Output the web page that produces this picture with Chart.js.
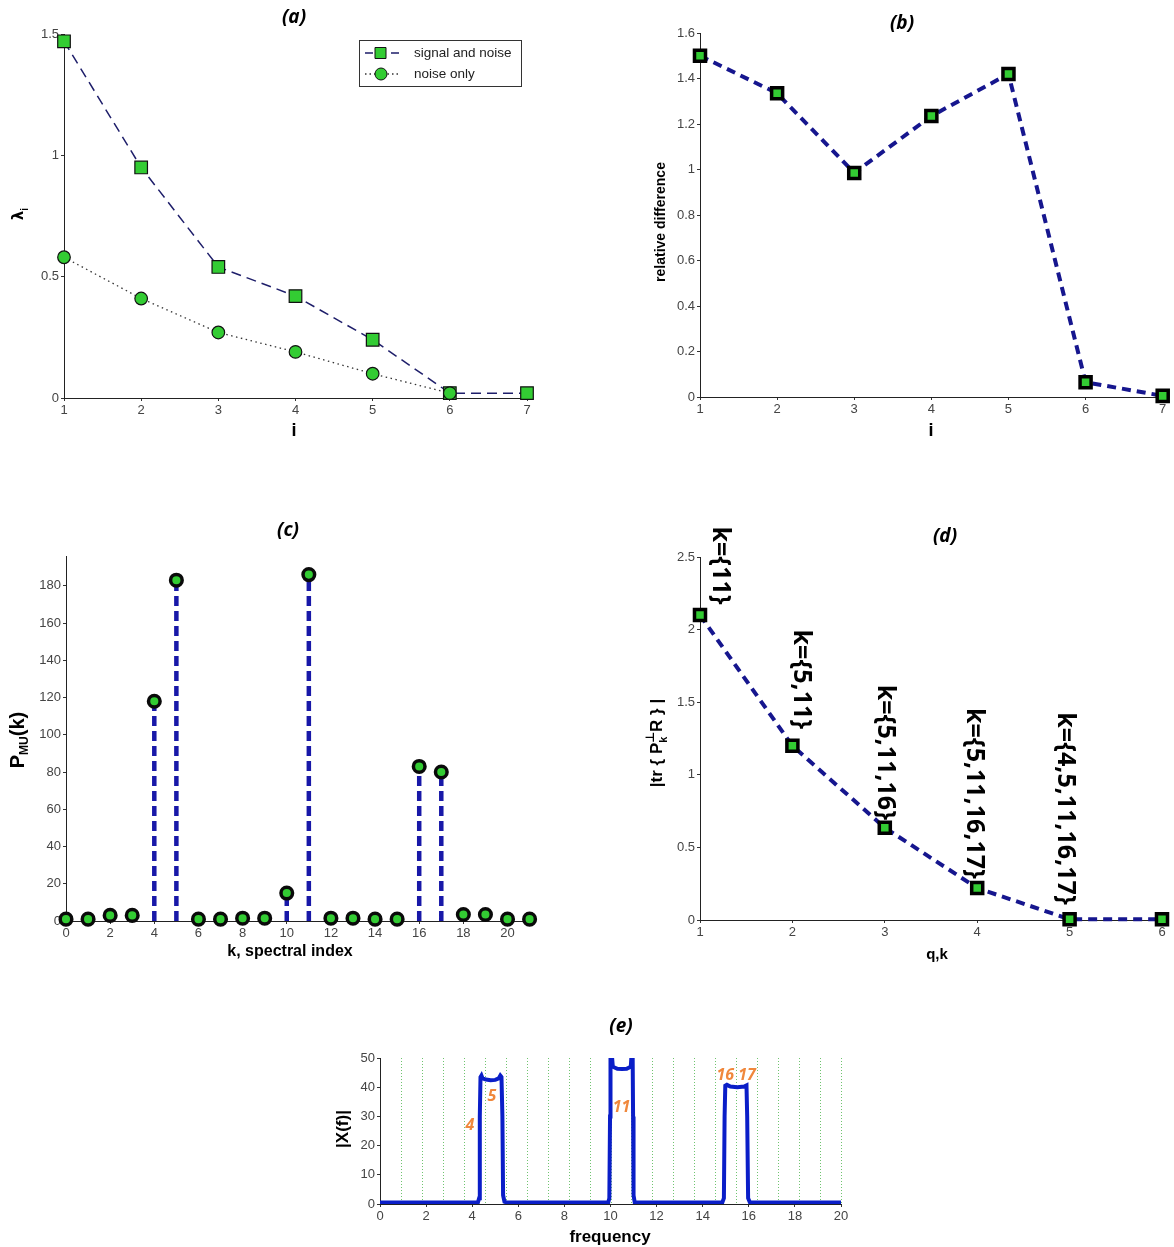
<!DOCTYPE html>
<html>
<head>
<meta charset="utf-8">
<script src="https://cdn.jsdelivr.net/npm/chart.js@4.4.0/dist/chart.umd.min.js"></script>
<style>
body { margin: 0; background: #fff; width: 1174px; height: 1247px; position: relative; overflow: hidden; }
canvas { position: absolute; }
</style>
</head>
<body>
<canvas id="chartA"></canvas>
<canvas id="chartB"></canvas>
<canvas id="chartC"></canvas>
<canvas id="chartD"></canvas>
<canvas id="chartE"></canvas>
<script>
// ---- data ----
const iIdx = [1, 2, 3, 4, 5, 6, 7];
const lambdaSignal = [1.47, 0.95, 0.54, 0.42, 0.24, 0.02, 0.02];
const lambdaNoise = [0.58, 0.41, 0.27, 0.19, 0.10, 0.02];

const relDiff = [1.50, 1.335, 0.985, 1.235, 1.42, 0.065, 0.005];

const kIdx = [0, 1, 2, 3, 4, 5, 6, 7, 8, 9, 10, 11, 12, 13, 14, 15, 16, 17, 18, 19, 20, 21];
const pMusic = [1, 1, 3, 3, 118, 183, 1, 1, 1.5, 1.5, 15, 186, 1.5, 1.5, 1, 1, 83, 80, 3.5, 3.5, 1, 1];

const qIdx = [1, 2, 3, 4, 5, 6];
const traceVals = [2.1, 1.2, 0.635, 0.22, 0.005, 0.005];
const kSets = ["k={11}", "k={5,11}", "k={5,11,16}", "k={5,11,16,17}", "k={4,5,11,16,17}"];

const freq = [0, 4.25, 4.3, 4.33, 4.36, 4.4, 4.45, 4.6, 4.8, 5.0, 5.15, 5.22, 5.27, 5.31, 5.34, 5.4, 5.5,
  9.9, 9.95, 9.98, 10.0, 10.05, 10.1, 10.3, 10.5, 10.7, 10.88, 10.92, 10.96, 10.98, 11.0, 11.05, 11.2,
  14.85, 14.92, 14.95, 14.98, 15.05, 15.2, 15.5, 15.8, 15.9, 15.93, 15.97, 16.05, 20];
const xMag = [0.5, 0.6, 2, 30, 43.5, 44, 43, 42.6, 42.4, 42.5, 43, 44, 43.5, 30, 3, 0.8, 0.5,
  0.5, 2, 30, 52, 52, 47, 46.3, 46.2, 46.3, 47, 52, 52, 30, 3, 0.6, 0.5,
  0.5, 2, 30, 40.5, 40.8, 40.2, 40, 40.2, 40.6, 30, 2, 0.5, 0.5];
const binFreqs = [0.909, 1.818, 2.727, 3.636, 4.545, 5.455, 6.364, 7.273, 8.182, 9.091, 10,
  10.909, 11.818, 12.727, 13.636, 14.545, 15.455, 16.364, 17.273, 18.182, 19.091, 20];
const peakNames = ["4", "5", "11", "16 17"];

// ---- styling ----
const GREEN = '#33cc33';
const NAVY = '#16168e';
const TICK_FONT = { family: 'Liberation Sans', size: 13 };
const TITLE = 'italic bold 19px "Open Sans"';

function put(ctx, s, x, y, f, o) {
  o = o || {};
  ctx.save();
  ctx.translate(x, y);
  if (o.rot) ctx.rotate(o.rot);
  ctx.font = f;
  ctx.fillStyle = o.color || '#000';
  ctx.textAlign = o.align || 'center';
  ctx.textBaseline = o.base || 'middle';
  ctx.fillText(s, 0, 0);
  ctx.restore();
}

// text made of pieces (sub/superscripts), centred on x,y
function rich(ctx, parts, x, y, rot) {
  ctx.save();
  ctx.translate(x, y);
  ctx.rotate(rot || 0);
  let w = 0;
  parts.forEach(p => { ctx.font = p.f; p.w = ctx.measureText(p.t).width; if (!p.stay) w += p.w; });
  let cx = -w / 2;
  ctx.textBaseline = 'middle';
  ctx.textAlign = 'left';
  ctx.fillStyle = '#000';
  parts.forEach(p => { ctx.font = p.f; ctx.fillText(p.t, cx, p.dy || 0); if (!p.stay) cx += p.w; });
  ctx.restore();
}

function axis(r, fit) {
  return {
    type: 'linear', min: r.min, max: r.max,
    afterFit: fit,
    grid: { drawOnChartArea: false, drawTicks: true, tickLength: 3, color: '#333' },
    border: { display: true, color: '#222', width: 1 },
    ticks: { stepSize: r.step, includeBounds: false, autoSkip: false, maxRotation: 0,
      color: '#444', font: TICK_FONT, padding: 2,
      callback: v => String(Math.round(v * 100) / 100) }
  };
}

function makeChart(id, box, m, datasets, xr, yr, deco, under) {
  const cv = document.getElementById(id);
  const W = box.R - box.L + m.l + m.r;
  const H = box.B - box.T + m.t + m.b;
  const left = box.L - m.l, top = box.T - m.t;
  cv.width = W; cv.height = H;
  cv.style.left = left + 'px'; cv.style.top = top + 'px';
  cv.style.width = W + 'px'; cv.style.height = H + 'px';
  const P = (x, y) => [x - left, y - top];
  const plugins = [{ id: 'deco_' + id, afterDraw(chart) { deco(chart, chart.ctx, P); } }];
  if (under) plugins.push({ id: 'under_' + id, beforeDatasetsDraw(chart) { under(chart, chart.ctx); } });
  return new Chart(cv, {
    type: 'scatter',
    data: { datasets: datasets },
    options: {
      responsive: false, animation: false, devicePixelRatio: 1,
      layout: { padding: { top: m.t, right: m.r, left: 0, bottom: 0 } },
      plugins: { legend: { display: false }, tooltip: { enabled: false } },
      scales: {
        x: axis(xr, s => { s.height = m.b; }),
        y: axis(yr, s => { s.width = m.l; })
      }
    },
    plugins: plugins
  });
}

const pts = (xs, ys) => ys.map((v, j) => ({ x: xs[j], y: v }));

// ---- (a) eigenvalues ----
makeChart('chartA', { L: 64, R: 527, T: 34, B: 398 }, { l: 64, t: 34, r: 30, b: 50 }, [
  { label: 'noise only', data: pts(iIdx, lambdaNoise), showLine: true, borderColor: '#333', borderWidth: 1.3, borderDash: [1.5, 3.5],
    pointStyle: 'circle', pointRadius: 6.3, pointBackgroundColor: GREEN, pointBorderColor: '#111', pointBorderWidth: 1.2, clip: false },
  { label: 'signal and noise', data: pts(iIdx, lambdaSignal), showLine: true, borderColor: '#1e1e6a', borderWidth: 1.5, borderDash: [10, 6],
    pointStyle: 'rect', pointRadius: 8.9, pointBackgroundColor: GREEN, pointBorderColor: '#111', pointBorderWidth: 1.2, clip: false }
], { min: 1, max: 7, step: 1 }, { min: 0, max: 1.5, step: 0.5 }, (chart, ctx, P) => {
  put(ctx, '(a)', ...P(294, 18), TITLE);
  put(ctx, 'i', ...P(294, 431), 'bold 18px "Liberation Sans"');
  rich(ctx, [{ t: 'λ', f: 'bold 15px "DejaVu Sans"' }, { t: 'i', f: 'bold 10px "Liberation Sans"', dy: 6 }], ...P(19, 214), -Math.PI / 2);
  // legend box
  const [bx, by] = P(359, 40);
  ctx.save();
  ctx.fillStyle = '#fff'; ctx.fillRect(bx, by, 162, 46);
  ctx.strokeStyle = '#333'; ctx.lineWidth = 1; ctx.strokeRect(bx + 0.5, by + 0.5, 162, 46);
  const ds = chart.data.datasets;
  [[ds[1], 13], [ds[0], 34]].forEach(([d, dy]) => {
    ctx.save();
    ctx.strokeStyle = d.borderColor; ctx.lineWidth = d.borderWidth;
    ctx.setLineDash(d.pointStyle === 'rect' ? [8, 5] : [1.5, 3]);
    ctx.beginPath(); ctx.moveTo(bx + 6, by + dy); ctx.lineTo(bx + 40, by + dy); ctx.stroke();
    ctx.restore();
    ctx.fillStyle = GREEN; ctx.strokeStyle = '#111'; ctx.lineWidth = 1;
    ctx.beginPath();
    if (d.pointStyle === 'rect') ctx.rect(bx + 16, by + dy - 5.5, 11, 11); else ctx.arc(bx + 22, by + dy, 6, 0, Math.PI * 2);
    ctx.fill(); ctx.stroke();
    put(ctx, d.label, bx + 55, by + dy, '13.5px "Liberation Sans"', { align: 'left', color: '#222' });
  });
  ctx.restore();
});

// ---- (b) relative difference ----
makeChart('chartB', { L: 700, R: 1163, T: 33, B: 397 }, { l: 70, t: 33, r: 11, b: 50 }, [
  { data: pts(iIdx, relDiff), showLine: true, borderColor: NAVY, borderWidth: 4, borderDash: [9, 6],
    pointStyle: 'rect', pointRadius: 7.8, pointBackgroundColor: GREEN, pointBorderColor: '#000', pointBorderWidth: 3.5, clip: false }
], { min: 1, max: 7, step: 1 }, { min: 0, max: 1.6, step: 0.2 }, (chart, ctx, P) => {
  put(ctx, '(b)', ...P(902, 24), TITLE);
  put(ctx, 'i', ...P(931, 431), 'bold 18px "Liberation Sans"');
  put(ctx, 'relative difference', ...P(661, 222), 'bold 14px "Liberation Sans"', { rot: -Math.PI / 2 });
});

// ---- (c) MUSIC pseudo-spectrum (stems) ----
const stemPts = [];
kIdx.forEach((k, j) => { stemPts.push({ x: k, y: 0 }, { x: k, y: pMusic[j] }, { x: k, y: null }); });
makeChart('chartC', { L: 66, R: 534, T: 556, B: 921 }, { l: 66, t: 45, r: 30, b: 50 }, [
  { data: pts(kIdx, pMusic), showLine: false, pointStyle: 'circle', pointRadius: 5.8,
    pointBackgroundColor: GREEN, pointBorderColor: '#0a0a0a', pointBorderWidth: 3.5, clip: false },
  { data: stemPts, showLine: true, spanGaps: false, pointRadius: 0, borderColor: '#1818a8', borderWidth: 4.5, borderDash: [10, 5] }
], { min: 0, max: 21.2, step: 2 }, { min: 0, max: 196, step: 20 }, (chart, ctx, P) => {
  put(ctx, '(c)', ...P(288, 531), TITLE);
  put(ctx, 'k, spectral index', ...P(290, 952), 'bold 16px "Liberation Sans"');
  rich(ctx, [{ t: 'P', f: 'bold 20px "Liberation Sans"' }, { t: 'MU', f: 'bold 12px "Liberation Sans"', dy: 7 },
    { t: '(k)', f: 'bold 20px "Liberation Sans"' }], ...P(18, 740), -Math.PI / 2);
});

// ---- (d) trace vs q ----
const dLabelQ = [1.22, 2.09, 3.0, 3.97, 4.95];
const dLabelTop = [2.71, 2.0, 1.62, 1.46, 1.43];
makeChart('chartD', { L: 700, R: 1162, T: 557, B: 920 }, { l: 70, t: 45, r: 12, b: 50 }, [
  { data: pts(qIdx, traceVals), showLine: true, borderColor: NAVY, borderWidth: 4, borderDash: [9, 6],
    pointStyle: 'rect', pointRadius: 7.8, pointBackgroundColor: GREEN, pointBorderColor: '#000', pointBorderWidth: 3.5, clip: false }
], { min: 1, max: 6, step: 1 }, { min: 0, max: 2.5, step: 0.5 }, (chart, ctx, P) => {
  put(ctx, '(d)', ...P(945, 537), TITLE);
  put(ctx, 'q,k', ...P(937, 955), 'bold 15px "Liberation Sans"');
  const f = 'bold 17px "Liberation Sans"', fs = 'bold 11px "Liberation Sans"';
  rich(ctx, [{ t: '|tr { P', f: f }, { t: '⊥', f: 'bold 12px "DejaVu Sans"', dy: -6, stay: true }, { t: 'k', f: fs, dy: 7 },
    { t: ' R } |', f: f }], ...P(657, 743), -Math.PI / 2);
  const xs = chart.scales.x, ys = chart.scales.y;
  kSets.forEach((s, j) => {
    put(ctx, s, xs.getPixelForValue(dLabelQ[j]), ys.getPixelForValue(dLabelTop[j]), 'bold 25px "Open Sans"',
      { rot: Math.PI / 2, align: 'left' });
  });
});

// ---- (e) spectrum ----
const peakF = [3.9, 4.85, 10.48, 15.45];
const peakY = [27, 37, 33, 44];
makeChart('chartE', { L: 380, R: 841, T: 1058, B: 1204 }, { l: 70, t: 45, r: 30, b: 43 }, [
  { data: pts(freq, xMag), showLine: true, pointRadius: 0, borderColor: '#0a1ec8', borderWidth: 4, tension: 0 }
], { min: 0, max: 20, step: 2 }, { min: 0, max: 50, step: 10 }, (chart, ctx, P) => {
  put(ctx, '(e)', ...P(621, 1027), TITLE);
  put(ctx, 'frequency', ...P(610, 1237), 'bold 17px "Liberation Sans"');
  put(ctx, '|X(f)|', ...P(343, 1129), 'bold 17px "Liberation Sans"', { rot: -Math.PI / 2 });
  const xs = chart.scales.x, ys = chart.scales.y;
  peakNames.forEach((s, j) => {
    put(ctx, s, xs.getPixelForValue(peakF[j]), ys.getPixelForValue(peakY[j]), 'italic bold 16px "Open Sans"', { color: '#f0883c' });
  });
}, (chart, ctx) => {
  // dotted bin grid, under the spectrum
  const xs = chart.scales.x, a = chart.chartArea;
  ctx.save();
  ctx.strokeStyle = '#6fc46f'; ctx.lineWidth = 1; ctx.setLineDash([1, 2]);
  binFreqs.forEach(f => {
    const x = Math.round(xs.getPixelForValue(f)) + 0.5;
    ctx.beginPath(); ctx.moveTo(x, a.top); ctx.lineTo(x, a.bottom); ctx.stroke();
  });
  ctx.restore();
});
</script>
</body>
</html>
